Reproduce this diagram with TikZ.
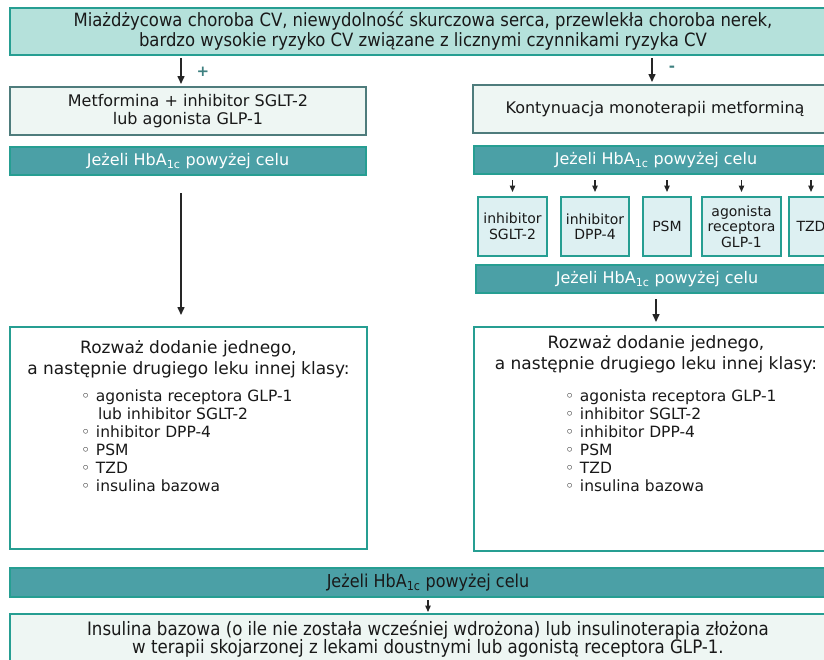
\documentclass[tikz,border=0pt]{standalone}
\usepackage{fontspec}
\setmainfont{DejaVu Sans}
\newfontfamily\condfont{DejaVu Sans Condensed}
\usepackage{tikz}
\usetikzlibrary{positioning,arrows.meta}
\definecolor{teal_c}{RGB}{38,158,146}
\definecolor{head_c}{RGB}{181,225,219}
\definecolor{opt_c}{RGB}{78,124,124}
\definecolor{pale_c}{RGB}{238,246,243}
\definecolor{bar_c}{RGB}{75,160,166}
\definecolor{drug_c}{RGB}{221,240,242}
\definecolor{sign_c}{RGB}{62,128,128}
\definecolor{txt_c}{RGB}{25,25,25}
\newcommand{\hba}{HbA\textsubscript{1c}}
\newcommand{\itm}[1]{\makebox[15pt][l]{◦}#1}

\begin{document}
\begin{tikzpicture}[x=1pt, y=-1pt,
  every node/.style={font=\fontsize{16}{18}\selectfont, text=txt_c, inner sep=0pt, outer sep=0pt},
  box/.style={anchor=north west, align=center},
  headbox/.style={box, draw=teal_c, line width=2.2pt, fill=head_c, font=\condfont\fontsize{18.3}{20}\selectfont},
  optbox/.style={box, draw=opt_c, line width=2pt, fill=pale_c},
  ifbar/.style={box, draw=teal_c, line width=1.8pt, fill=bar_c, text=white},
  drugbox/.style={box, draw=teal_c, line width=1.8pt, fill=drug_c, font=\fontsize{14}{15.5}\selectfont},
  bigbox/.style={box, draw=teal_c, line width=1.8pt, fill=white},
  endbox/.style={box, draw=teal_c, line width=2pt, fill=pale_c, font=\condfont\fontsize{18.5}{18.5}\selectfont},
  hd/.style={anchor=north, align=center, font=\fontsize{17}{21}\selectfont},
  lst/.style={anchor=north west, align=left, font=\fontsize{15.5}{18}\selectfont},
  sg/.style={font=\bfseries\fontsize{15}{15}\selectfont, text=sign_c},
  ar/.style={-{Triangle[length=8pt,width=7pt]}, line width=1.5pt, black!85},
  sar/.style={-{Triangle[length=6.5pt,width=5.5pt]}, line width=1.3pt, black!85},
]
\path[use as bounding box, clip] (0,0) rectangle (824,659);

% first level
\node[headbox, minimum width=826pt, minimum height=47pt] (top) at (10,8)
  {Miażdżycowa choroba CV, niewydolność skurczowa serca, przewlekła choroba nerek,\\
   bardzo wysokie ryzyko CV związane z licznymi czynnikami ryzyka CV};
\node[optbox, minimum width=356pt, minimum height=48pt] (lopt) at (10,87)
  {Metformina + inhibitor SGLT-2\\lub agonista GLP-1};
\node[optbox, minimum width=364pt, minimum height=48pt] (ropt) at (473,85)
  {Kontynuacja monoterapii metforminą};
\node[sg] (plus) at (203,72) {+};
\node[sg] (minus) at (672,69) {-};

% HbA1c bars
\node[ifbar, minimum width=356pt, minimum height=28pt] (lbar) at (10,147) {Jeżeli \hba{} powyżej celu};
\node[ifbar, minimum width=364pt, minimum height=28pt] (rbar) at (474,146) {Jeżeli \hba{} powyżej celu};

% drug classes
\node[drugbox, minimum width=69pt, minimum height=59pt] (d1) at (478,197) {inhibitor\\SGLT-2};
\node[drugbox, minimum width=68pt, minimum height=59pt] (d2) at (561,197) {inhibitor\\DPP-4};
\node[drugbox, minimum width=48pt, minimum height=59pt] (d3) at (643,197) {PSM};
\node[drugbox, minimum width=79pt, minimum height=59pt] (d4) at (702,197) {agonista\\receptora\\GLP-1};
\node[drugbox, minimum width=44pt, minimum height=59pt] (d5) at (789,197) {TZD};
\node[ifbar, minimum width=362pt, minimum height=28pt] (rbar2) at (476,265) {Jeżeli \hba{} powyżej celu};

% add-on boxes
\node[bigbox, minimum width=357pt, minimum height=222pt] (lbig) at (10,327) {};
\node[hd] (lhd) at ([yshift=-14pt]lbig.north) {Rozważ dodanie jednego,\\a następnie drugiego leku innej klasy:};
\node[lst] (llst) at (81,390)
  {\itm{agonista receptora GLP-1}\\\hspace*{17pt}lub inhibitor SGLT-2\\\itm{inhibitor DPP-4}\\\itm{PSM}\\\itm{TZD}\\\itm{insulina bazowa}};
\node[bigbox, minimum width=364pt, minimum height=224pt] (rbig) at (474,327) {};
\node[hd] (rhd) at ([yshift=-9pt]rbig.north) {Rozważ dodanie jednego,\\a następnie drugiego leku innej klasy:};
\node[lst] (rlst) at (565,390)
  {\itm{agonista receptora GLP-1}\\\itm{inhibitor SGLT-2}\\\itm{inhibitor DPP-4}\\\itm{PSM}\\\itm{TZD}\\\itm{insulina bazowa}};

% last step
\node[ifbar, text=txt_c, minimum width=836pt, minimum height=29pt, font=\condfont\fontsize{17.8}{18}\selectfont] (bbar) at (10,568) {Jeżeli \hba{} powyżej celu};
\node[endbox, minimum width=836pt, minimum height=50pt] (ins) at (10,614)
  {Insulina bazowa (o ile nie została wcześniej wdrożona) lub insulinoterapia złożona\\
   w terapii skojarzonej z lekami doustnymi lub agonistą receptora GLP-1.};

% arrows
\coordinate (xl) at (181,0);
\coordinate (xr) at (652,0);
\coordinate (xr2) at (656,0);
\coordinate (xb) at (428,0);
\draw[ar, shorten <=3pt, shorten >=3pt] (top.south -| xl) -- (lopt.north -| xl);
\draw[ar, shorten <=3pt, shorten >=3pt] (top.south -| xr) -- (ropt.north -| xr);
\draw[ar, shorten <=18pt, shorten >=12pt] (lbar.south -| xl) -- (lbig.north -| xl);
\foreach \d in {d1,d2,d3,d4,d5}
  \draw[sar, shorten <=6pt, shorten >=5pt] (rbar.south -| \d) -- (\d.north);
\draw[ar, shorten <=6pt, shorten >=5pt] (rbar2.south -| xr2) -- (rbig.north -| xr2);
\draw[sar, shorten <=3pt, shorten >=2pt] (bbar.south -| xb) -- (ins.north -| xb);
\end{tikzpicture}
\end{document}
